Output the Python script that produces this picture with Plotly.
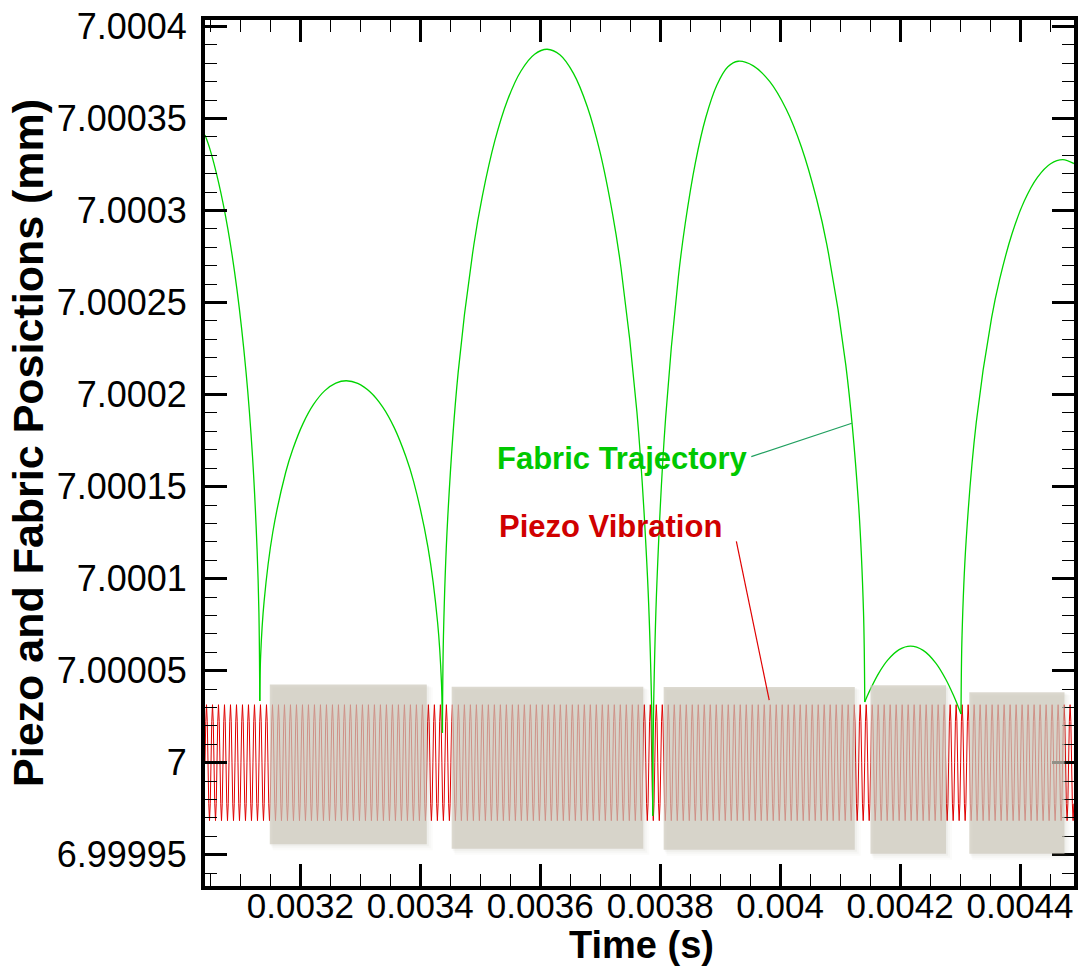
import numpy as np
import plotly.graph_objects as go

# ---------------- data ----------------
# Fabric trajectory: one list per flight arc (time in s, position in mm)
arc0_t = [0.003041, 0.0030486, 0.0030638, 0.0030791, 0.0030943, 0.0031095, 0.0031202, 0.0031278, 0.0031309, 0.0031324]
arc0_y = [7.0003410, 7.0003340, 7.0003150, 7.0002900, 7.0002570, 7.0002120, 7.0001665, 7.0001160, 7.0000815, 7.0000335]

arc1_t = [0.0031324, 0.0031338, 0.0031396, 0.0031540, 0.0031756, 0.0031871, 0.0032044, 0.0032217, 0.0032404,
          0.0032591, 0.0032764, 0.0032957, 0.0033165, 0.0033374, 0.0033567, 0.0033759, 0.0033888,
          0.0034128, 0.0034289, 0.0034353, 0.0034369]
arc1_y = [7.0000335, 7.0000581, 7.0000878, 7.0001252, 7.0001578, 7.0001700, 7.0001842, 7.0001945, 7.0002020,
          7.0002062, 7.0002075, 7.0002061, 7.0002014, 7.0001932, 7.0001819, 7.0001663, 7.0001528,
          7.0001170, 7.0000760, 7.0000433, 7.0000163]

arc2_t = [0.0034369, 0.0034386, 0.0034456, 0.0034631, 0.0034893, 0.0035033, 0.0035242, 0.0035452, 0.0035679,
          0.0035906, 0.0036116, 0.0036327, 0.0036556, 0.0036785, 0.0036996, 0.0037207, 0.0037348,
          0.0037612, 0.0037788, 0.0037858, 0.0037876]
arc2_y = [7.0000163, 7.0000687, 7.0001322, 7.0002119, 7.0002814, 7.0003076, 7.0003378, 7.0003598, 7.0003758,
          7.0003849, 7.0003876, 7.0003846, 7.0003744, 7.0003564, 7.0003318, 7.0002979, 7.0002685,
          7.0001905, 7.0001011, 7.0000299, 6.9999711]

arc3_t = [0.0037876, 0.0037890, 0.0037947, 0.0038090, 0.0038303, 0.0038417, 0.0038588, 0.0038759, 0.0038944,
          0.0039129, 0.0039300, 0.0039553, 0.0039828, 0.0040102, 0.0040356, 0.0040609, 0.0040778,
          0.0041094, 0.0041305, 0.0041390, 0.0041411]
arc3_y = [6.9999711, 7.0000290, 7.0000991, 7.0001871, 7.0002639, 7.0002928, 7.0003262, 7.0003504, 7.0003681,
          7.0003781, 7.0003811, 7.0003786, 7.0003700, 7.0003550, 7.0003344, 7.0003061, 7.0002816,
          7.0002163, 7.0001416, 7.0000820, 7.0000329]

arc4_t = [0.0041411, 0.0041449, 0.0041526, 0.0041640, 0.0041793, 0.0041984, 0.0042175,
          0.0042385, 0.0042596, 0.0042764, 0.0042890, 0.0042974, 0.0043016]
arc4_y = [7.0000329, 7.0000359, 7.0000413, 7.0000484, 7.0000557, 7.0000614, 7.0000633,
          7.0000610, 7.0000541, 7.0000452, 7.0000366, 7.0000300, 7.0000264]

arc5_t = [0.0043016, 0.0043033, 0.0043101, 0.0043271, 0.0043525, 0.0043661, 0.0043865, 0.0044069,
          0.0044290, 0.0044510, 0.0044714, 0.00449]
arc5_y = [7.0000264, 7.0000689, 7.0001204, 7.0001851, 7.0002415, 7.0002627, 7.0002872, 7.0003050,
          7.0003180, 7.0003254, 7.0003276, 7.0003255]

# Piezo vibration
piezo_center = 7.0
piezo_amplitude = 0.0000315      # mm
piezo_frequency = 100000.0       # Hz (one cycle every 0.00001 s)
piezo_t_start = 0.003041
piezo_t_end = 0.00449

# Grey shaded boxes (t0, t1, y0, y1)
box_t0 = [0.0031490, 0.0034523, 0.0038058, 0.0041506, 0.0043154]
box_t1 = [0.0034108, 0.0037718, 0.0041245, 0.0042767, 0.0044742]
box_y0 = [6.9999557, 6.9999532, 6.9999527, 6.9999505, 6.9999505]
box_y1 = [7.0000425, 7.0000413, 7.0000411, 7.0000421, 7.0000383]

# axis ticks
x_tickvals = [0.0032, 0.0034, 0.0036, 0.0038, 0.004, 0.0042, 0.0044]
x_ticktext = ["0.0032", "0.0034", "0.0036", "0.0038", "0.004", "0.0042", "0.0044"]
y_tickvals = [6.99995, 7.0, 7.00005, 7.0001, 7.00015, 7.0002, 7.00025, 7.0003, 7.00035, 7.0004]
y_ticktext = ["6.99995", "7", "7.00005", "7.0001", "7.00015", "7.0002", "7.00025", "7.0003", "7.00035", "7.0004"]

x_range = [0.003041, 0.00449]
y_range = [6.999933, 7.0004035]

# annotation label anchors and leader lines
fabric_label = (0.0035253, 7.0001652)
fabric_leader = (0.0039519, 7.0001663, 0.0041195, 7.0001844)
piezo_label = (0.0035286, 7.0001284)
piezo_leader = (0.0039270, 7.0001202, 0.0039818, 7.0000340)

# ---------------- build figure ----------------
FONT = "Liberation Sans, Arial, sans-serif"
W, H = 1086, 967
ML, MR, MT, MB = 205, 12, 20, 81
PW, PH = W - ML - MR, H - MT - MB

fab_t, fab_y = [], []
for tt, yy in [(arc0_t, arc0_y), (arc1_t, arc1_y), (arc2_t, arc2_y),
               (arc3_t, arc3_y), (arc4_t, arc4_y), (arc5_t, arc5_y)]:
    fab_t += list(tt) + [None]
    fab_y += list(yy) + [None]

period = 1.0 / piezo_frequency
pt = np.arange(piezo_t_start, piezo_t_end, period / 8.0)
py = piezo_center + piezo_amplitude * np.sin(2 * np.pi * piezo_frequency * (pt - piezo_t_start))

fig = go.Figure()
fig.add_trace(go.Scatter(x=pt, y=py, mode="lines",
                         line=dict(color="#e00000", width=1, simplify=False),
                         hoverinfo="skip", showlegend=False))
fig.add_trace(go.Scatter(x=fab_t, y=fab_y, mode="lines",
                         line=dict(color="#00d400", width=1.3, shape="spline", smoothing=0.9),
                         connectgaps=False, hoverinfo="skip", showlegend=False))

# pixel -> data offsets for the soft drop shadow of the grey boxes
dx_px = (x_range[1] - x_range[0]) / PW
dy_px = (y_range[1] - y_range[0]) / PH
for a, b, c, d in zip(box_t0, box_t1, box_y0, box_y1):
    for k, alpha in [(6, 0.03), (4, 0.04), (2, 0.05)]:
        fig.add_shape(type="rect", xref="x", yref="y",
                      x0=a + k * dx_px * 0.5, x1=b + k * dx_px, y0=c - k * dy_px, y1=d - k * dy_px * 0.5,
                      fillcolor=f"rgba(120,115,100,{alpha})", line=dict(width=0), layer="above")
    fig.add_shape(type="rect", xref="x", yref="y", x0=a, x1=b, y0=c, y1=d,
                  fillcolor="rgba(205,201,188,0.70)", line=dict(width=0), layer="above")

fig.add_shape(type="line", xref="x", yref="y",
              x0=fabric_leader[0], y0=fabric_leader[1], x1=fabric_leader[2], y1=fabric_leader[3],
              line=dict(color="#1f9f5f", width=1.2))
fig.add_shape(type="line", xref="x", yref="y",
              x0=piezo_leader[0], y0=piezo_leader[1], x1=piezo_leader[2], y1=piezo_leader[3],
              line=dict(color="#e00000", width=1.2))

fig.add_annotation(x=fabric_label[0], y=fabric_label[1], xref="x", yref="y",
                   text="Fabric Trajectory", showarrow=False, xanchor="left", yanchor="middle",
                   font=dict(family=FONT, size=31, color="#00c800", weight="bold"))
fig.add_annotation(x=piezo_label[0], y=piezo_label[1], xref="x", yref="y",
                   text="Piezo Vibration", showarrow=False, xanchor="left", yanchor="middle",
                   font=dict(family=FONT, size=31, color="#d00000", weight="bold"))

# axis titles as paper-positioned annotations
fig.add_annotation(x=(641 - ML) / PW, y=-(945 - (H - MB)) / PH, xref="paper", yref="paper",
                   text="Time (s)", showarrow=False, xanchor="center", yanchor="middle",
                   font=dict(family=FONT, size=38, color="black", weight="bold"))
fig.add_annotation(x=(28 - ML) / PW, y=((H - MB) - 443) / PH, xref="paper", yref="paper",
                   text="Piezo and Fabric Posictions (mm)", showarrow=False, textangle=-90,
                   xanchor="center", yanchor="middle",
                   font=dict(family=FONT, size=43, color="black", weight="bold"))

axis_common = dict(showline=True, linecolor="black", linewidth=4, mirror="allticks",
                   ticks="inside", ticklen=22, tickwidth=3, tickcolor="black",
                   showgrid=False, zeroline=False)

fig.update_xaxes(range=x_range, tickmode="array", tickvals=x_tickvals, ticktext=x_ticktext,
                 tickfont=dict(family=FONT, size=35, color="black"),
                 minor=dict(tickmode="linear", tick0=0.0032, dtick=0.00005, ticks="inside",
                            ticklen=12, tickwidth=1, tickcolor="black", showgrid=False),
                 **axis_common)
fig.update_yaxes(range=y_range, tickmode="array", tickvals=y_tickvals, ticktext=y_ticktext,
                 tickfont=dict(family=FONT, size=36, color="black"),
                 minor=dict(tickmode="linear", tick0=7.0, dtick=0.00001, ticks="inside",
                            ticklen=12, tickwidth=1, tickcolor="black", showgrid=False),
                 **axis_common)
try:
    fig.update_xaxes(ticklabelstandoff=-14)
except ValueError:
    pass
try:
    fig.update_yaxes(ticklabelstandoff=7)
except ValueError:
    pass

fig.update_layout(width=W, height=H,
                  margin=dict(l=ML, r=MR, t=MT, b=MB, autoexpand=False),
                  paper_bgcolor="white", plot_bgcolor="white",
                  showlegend=False)

fig.write_html("out.html")
